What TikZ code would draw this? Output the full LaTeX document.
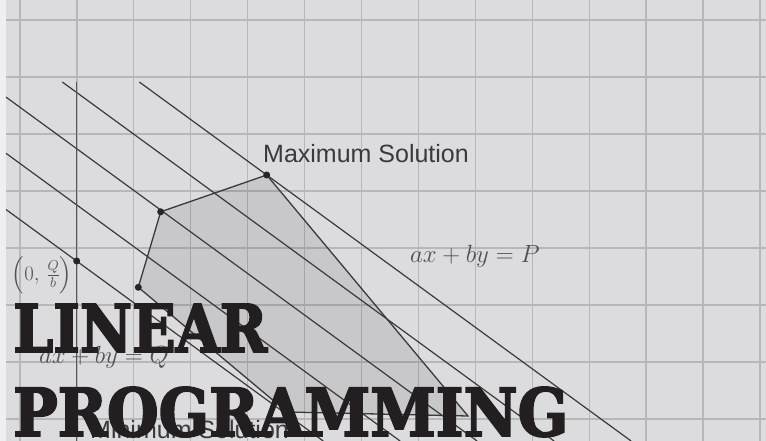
\documentclass[tikz,border=0pt]{standalone}
\usepackage{fontspec}
\usepackage{amsmath}
\usepackage{graphicx}
\usetikzlibrary{positioning}
\newfontfamily\labelfont{Liberation Sans}
\newfontfamily\titlefont[BoldFeatures={FakeBold=3}]{DejaVu Serif}
\definecolor{paper}{HTML}{DCDCDF}
\definecolor{gridline}{HTML}{B7B7BB}
\definecolor{ink}{HTML}{3A3A3A}
\definecolor{mathgray}{HTML}{505050}
\definecolor{titleink}{HTML}{231F20}

\tikzset{
  gridrule/.style={gridline, line width=1.3pt},
  isoline/.style={ink, line width=1.2pt},
  axisline/.style={ink!85, line width=1.1pt},
  edge/.style={ink, line width=1.3pt},
  vertex/.style={circle, fill=black!85, inner sep=0pt, minimum size=7pt},
  sollabel/.style={font=\labelfont\fontsize{25}{28}\selectfont, text=ink, inner sep=0pt},
  eqlabel/.style={font=\fontsize{26.5}{30}\selectfont, text=mathgray, inner sep=0pt},
  titletext/.style={text=titleink, inner sep=0pt, anchor=base west},
}

\begin{document}
\begin{tikzpicture}[x=1pt,y=-1pt]
  \useasboundingbox (0,0) rectangle (766,441);
  \fill[paper] (0,0) rectangle (766,441);
  \fill[white!55!paper] (0,0) rectangle (6,441);
  % grid
  \foreach \gx in {0,...,13}
    \draw[gridrule] ({20+56.92*\gx},0) -- ({20+56.92*\gx},441);
  \foreach \gy in {0,...,7}
    \draw[gridrule] (6,{20+57*\gy}) -- (766,{20+57*\gy});
  % feasible region
  \coordinate (v1) at (138.3,287.3);
  \coordinate (v2) at (160.7,211.8);
  \coordinate (v3) at (266.7,175);
  \coordinate (v4) at (468,416);
  \coordinate (v5) at (287,412);
  \coordinate (q) at (76.7,261);
  \fill[black, fill opacity=0.09] (v1) -- (v2) -- (v3) -- (v4) -- (v5) -- cycle;
  % level lines ax+by=c
  \foreach \k/\xs/\ys/\xe in {0/139.3/82/631.1, 1/62.3/82/554.1, 2/6/97.1/477.1, 3/6/153.3/400.1, 4/6/209.5/323.2} {
    \coordinate (iso\k a) at (\xs,\ys);
    \coordinate (iso\k b) at (\xe,441);
    \draw[isoline] (iso\k a) -- (iso\k b);
  }
  % y axis
  \coordinate (ytop) at (76.7,82);
  \coordinate (ybot) at (76.7,441);
  \draw[axisline] (ytop) -- (ybot);
  \draw[edge] (v1) -- (v2) -- (v3) -- (v4) -- (v5) -- cycle;
  \foreach \p in {v1,v2,v3,q}
    \node[vertex] (dot\p) at (\p) {};
  % labels
  \node[sollabel, anchor=base west] (maxlabel) at (263,162.5) {Maximum Solution};
  \node[sollabel, anchor=base west] (minlabel) at (90,438) {Minimum Solution};
  \node[eqlabel, anchor=base west] (plabel) at (410,262) {$ax+by=P$};
  \node[eqlabel, anchor=base west] (qlabel) at (39,363) {$ax+by=Q$};
  \node[eqlabel, font=\fontsize{22}{26}\selectfont, anchor=east] (qpoint) at (72.5,275) {$\left(0,\,\frac{Q}{b}\right)$};
  % title
  \node[titletext] (line1) at (13,352) {\resizebox{254pt}{48pt}{\titlefont\bfseries LINEAR}};
  \node[titletext] (line2) at (13,436) {\resizebox{555pt}{49pt}{\titlefont\bfseries PROGRAMMING}};
\end{tikzpicture}
\end{document}
